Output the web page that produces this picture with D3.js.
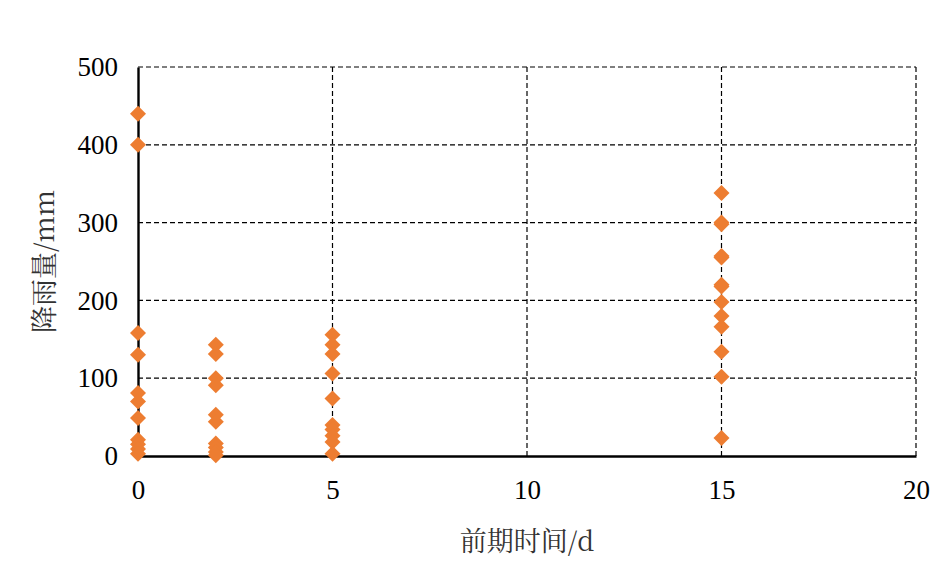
<!DOCTYPE html>
<html><head><meta charset="utf-8">
<script src="https://cdn.jsdelivr.net/npm/d3@7/dist/d3.min.js"></script>
<style>body{margin:0;background:#fff}</style>
</head><body>
<svg id="c" width="947" height="566"></svg>
<script>
const xTicks = [0, 5, 10, 15, 20];
const yTicks = [0, 100, 200, 300, 400, 500];
const days0 = [440, 400, 158, 130, 81, 70, 49, 21, 15, 9, 3];
const days2 = [143, 131, 100, 91, 53, 44, 16, 11, 5, 1];
const days5 = [156, 143, 131, 106, 74, 40, 34, 26, 18, 3];
const days15 = [338, 300, 298, 257, 255, 220, 218, 198, 180, 166, 134, 102, 23];
const groups = [[0, days0], [2, days2], [5, days5], [15, days15]];
const xTitle = "前期时间/d";
const yTitle = "降雨量/mm";

const svg = d3.select("#c");
const L = 138, R = 916, T = 67, B = 456;
const x = d3.scaleLinear().domain([0, 20]).range([L, R]);
const y = d3.scaleLinear().domain([0, 500]).range([B, T]);
const font = "'Liberation Serif','Times New Roman',serif";

// grid
const g = svg.append("g");
g.selectAll(".gy").data(yTicks.filter(d => d > 0)).join("line")
  .attr("x1", L).attr("x2", R).attr("y1", d => y(d)).attr("y2", d => y(d))
  .attr("stroke", "#000").attr("stroke-width", 1.2).attr("stroke-dasharray", "5,3");
g.selectAll(".gx").data(xTicks.filter(d => d > 0)).join("line")
  .attr("y1", T).attr("y2", B).attr("x1", d => x(d)).attr("x2", d => x(d))
  .attr("stroke", "#000").attr("stroke-width", 1.2).attr("stroke-dasharray", "5,3");

// axes
const xa = svg.append("g").attr("transform", `translate(0,${B})`)
  .call(d3.axisBottom(x).tickValues(xTicks).tickSize(0).tickPadding(24));
const ya = svg.append("g").attr("transform", `translate(${L},0)`)
  .call(d3.axisLeft(y).tickValues(yTicks).tickSize(0).tickPadding(20));
[xa, ya].forEach(a => {
  a.select(".domain").attr("stroke", "#000").attr("stroke-width", 2.4);
  a.selectAll("text").attr("font-family", font).attr("font-size", 27).attr("fill", "#000");
});

// points
const diamond = d3.symbol().type(d3.symbolSquare).size(128);
groups.forEach(([d, vals]) => {
  svg.append("g").selectAll("path").data(vals).join("path")
    .attr("d", diamond)
    .attr("transform", v => `translate(${x(d)},${y(v)}) rotate(45)`)
    .attr("fill", "#ED7D31");
});

// titles
svg.append("text").attr("x", 527).attr("y", 551).attr("text-anchor", "middle")
  .attr("font-family", "'Noto Serif CJK SC','Noto Sans CJK SC',serif").attr("font-size", 27).attr("fill", "#333")
  .text(xTitle);
svg.append("text").attr("transform", `translate(54,${(T + B) / 2}) rotate(-90)`).attr("text-anchor", "middle")
  .attr("font-family", "'Noto Serif CJK SC','Noto Sans CJK SC',serif").attr("font-size", 27).attr("fill", "#333")
  .text(yTitle);
</script>
</body></html>
